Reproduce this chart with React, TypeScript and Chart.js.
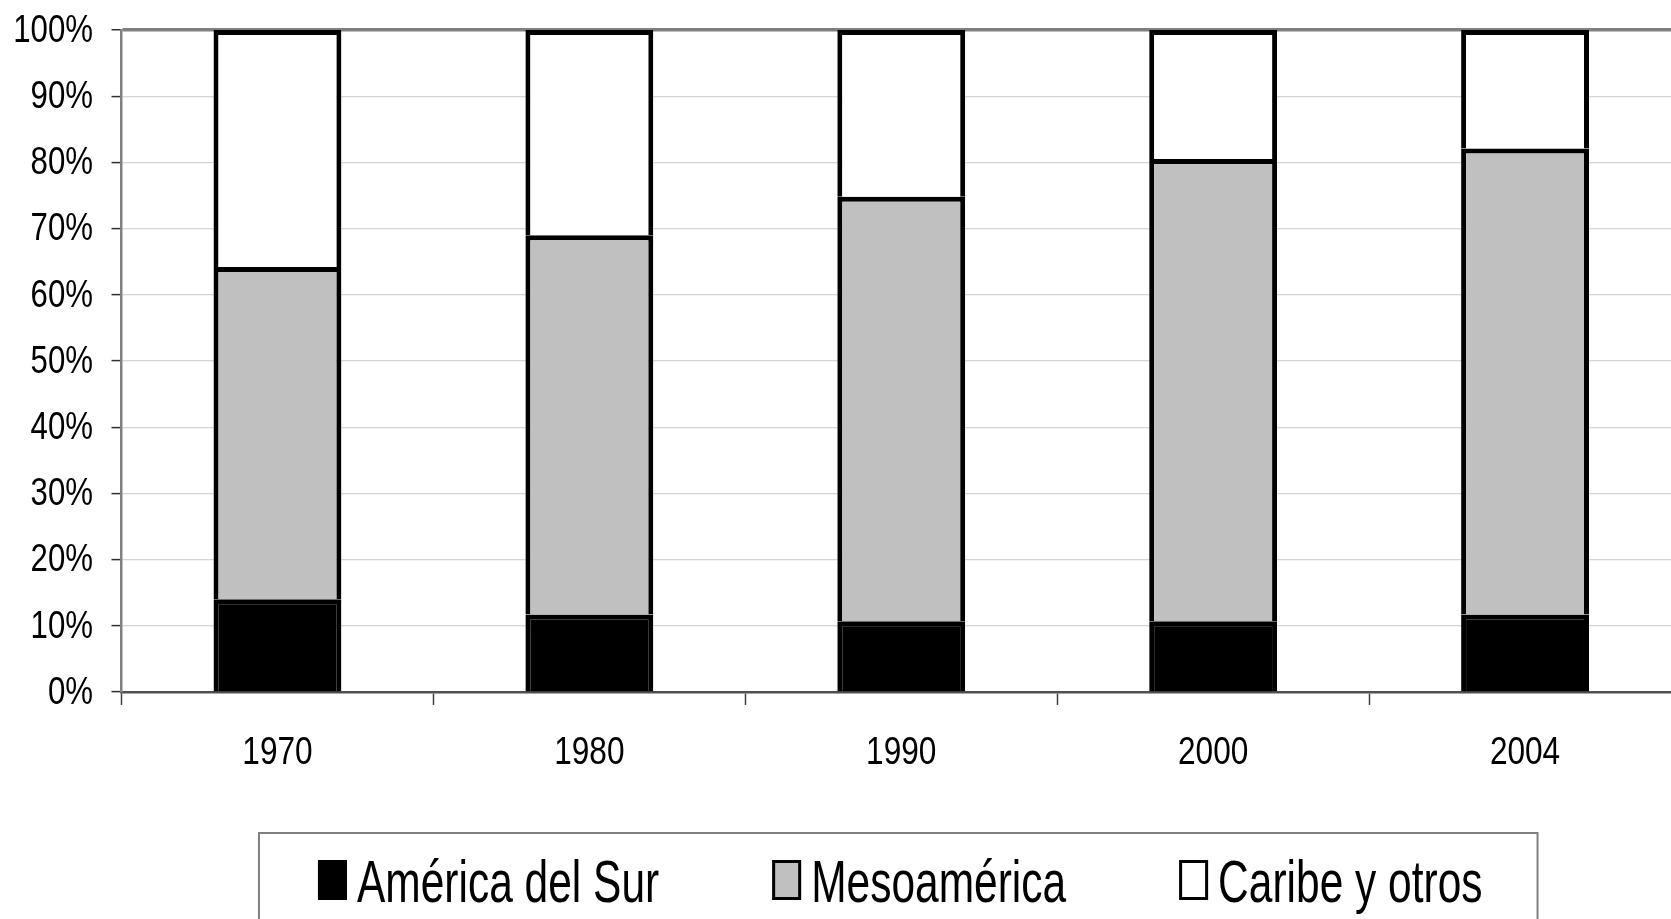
import React, { useEffect, useRef } from 'react';
import { Chart, registerables } from 'chart.js';

Chart.register(...registerables);

const categories = ['1970', '1980', '1990', '2000', '2004'];
const seriesNames = ['América del Sur', 'Mesoamérica', 'Caribe y otros'];
const americaDelSur = [14.0, 11.7, 10.7, 10.7, 11.7];
const mesoamerica = [50.2, 57.3, 64.1, 69.8, 70.4];
const caribeYOtros = [35.8, 31.0, 25.2, 19.5, 17.9];
const seriesColors = ['#000000', '#c0c0c0', '#ffffff'];
const yTickValues = [0, 10, 20, 30, 40, 50, 60, 70, 80, 90, 100];

const FONT = "'Liberation Sans', Arial, sans-serif";

// Draws tick labels in a condensed (Arial Narrow-like) style
const narrowTicks = {
  id: 'narrowTicks',
  afterDraw(chart: any) {
    const ctx = chart.ctx as CanvasRenderingContext2D;
    const xs = chart.scales.x;
    const ys = chart.scales.y;
    ctx.save();
    ctx.fillStyle = '#000';
    ctx.font = `39px ${FONT}`;
    ctx.textBaseline = 'middle';
    ctx.textAlign = 'right';
    ys.ticks.forEach((t: any, i: number) => {
      const y = ys.getPixelForTick(i);
      ctx.save();
      ctx.translate(ys.right - 28.5, y + 1);
      ctx.scale(0.8, 1);
      ctx.fillText(String(t.label), 0, 0);
      ctx.restore();
    });
    ctx.textAlign = 'center';
    xs.ticks.forEach((t: any, i: number) => {
      const x = xs.getPixelForTick(i);
      ctx.save();
      ctx.translate(x, xs.top + 61);
      ctx.scale(0.81, 1);
      ctx.fillText(String(t.label), 0, 0);
      ctx.restore();
    });
    ctx.restore();
  },
};

const boxLegend = {
  id: 'boxLegend',
  afterDraw(chart: any) {
    const ctx = chart.ctx as CanvasRenderingContext2D;
    const ds = chart.data.datasets;
    const area = chart.chartArea;
    ctx.save();
    const fontSize = 59;
    const hScale = 0.72;
    ctx.font = `${fontSize}px ${FONT}`;
    const sqW = 29, sqH = 40, gapText = 10, gapItem = 113;
    const widths = ds.map((d: any) => sqW + gapText + ctx.measureText(d.label).width * hScale);
    const total = widths.reduce((a: number, b: number) => a + b, 0) + gapItem * (ds.length - 1);
    const cx = (area.left + area.right) / 2 - 1;
    const start = cx - total / 2;
    const boxTop = 833;
    ctx.strokeStyle = '#808080';
    ctx.lineWidth = 2;
    ctx.strokeRect(start - 59, boxTop, total + 114, 200);
    let x = start;
    const sqTop = 860;
    const baseline = 902;
    ds.forEach((d: any, i: number) => {
      ctx.fillStyle = d.backgroundColor;
      ctx.fillRect(x, sqTop, sqW, sqH);
      ctx.strokeStyle = '#000';
      ctx.lineWidth = 3;
      ctx.strokeRect(x + 1.5, sqTop + 1.5, sqW - 3, sqH - 3);
      ctx.fillStyle = '#000';
      ctx.textBaseline = 'alphabetic';
      ctx.textAlign = 'left';
      ctx.save();
      ctx.translate(x + sqW + gapText, baseline);
      ctx.scale(hScale, 1);
      ctx.fillText(d.label, 0, 0);
      ctx.restore();
      x += widths[i] + gapItem;
    });
    ctx.restore();
  },
};

export default function App() {
  const canvasRef = useRef<HTMLCanvasElement | null>(null);

  useEffect(() => {
    const canvas = canvasRef.current;
    if (!canvas) return;
    const seriesValues = [americaDelSur, mesoamerica, caribeYOtros];
    const chart = new Chart(canvas, {
      type: 'bar',
      data: {
        labels: categories,
        datasets: seriesNames.map((name, i) => ({
          label: name,
          data: seriesValues[i],
          backgroundColor: seriesColors[i],
          borderColor: '#000000',
          borderWidth: 5,
          categoryPercentage: 1,
          barPercentage: 0.41,
        })),
      },
      options: {
        responsive: false,
        animation: false,
        layout: { padding: { top: 30, left: 0, right: 0, bottom: 117 } },
        plugins: {
          legend: { display: false },
          tooltip: { enabled: false },
        },
        scales: {
          x: {
            stacked: true,
            offset: true,
            afterFit: (scale: any) => {
              scale.height = 110;
            },
            grid: {
              offset: true,
              drawOnChartArea: false,
              drawTicks: true,
              tickLength: 13,
              tickColor: '#404040',
              tickWidth: 1.5,
            },
            border: { display: true, color: '#505050', width: 2.5 },
            ticks: {
              display: false,
              maxRotation: 0,
            },
          },
          y: {
            stacked: true,
            min: 0,
            max: 100,
            afterFit: (scale: any) => {
              scale.width = 121.5;
            },
            afterBuildTicks: (scale: any) => {
              scale.ticks = yTickValues.map((v) => ({ value: v }));
            },
            grid: {
              color: (c: any) => (c.tick && c.tick.value === 100 ? '#808080' : '#d4d4d4'),
              lineWidth: (c: any) => (c.tick && c.tick.value === 100 ? 3.5 : 1.2),
              tickLength: 10,
              tickColor: '#303030',
              tickWidth: 1.5,
            },
            border: { display: true, color: '#808080', width: 2.5 },
            ticks: {
              display: false,
              callback: (v: any) => `${v}%`,
            },
          },
        },
      },
      plugins: [narrowTicks, boxLegend],
    });
    return () => chart.destroy();
  }, []);

  return (
    <div style={{ position: 'fixed', left: 0, top: 0, width: 1671, height: 919, overflow: 'hidden', background: '#fff' }}>
      <canvas ref={canvasRef} width={1681} height={919} style={{ display: 'block' }} />
    </div>
  );
}
